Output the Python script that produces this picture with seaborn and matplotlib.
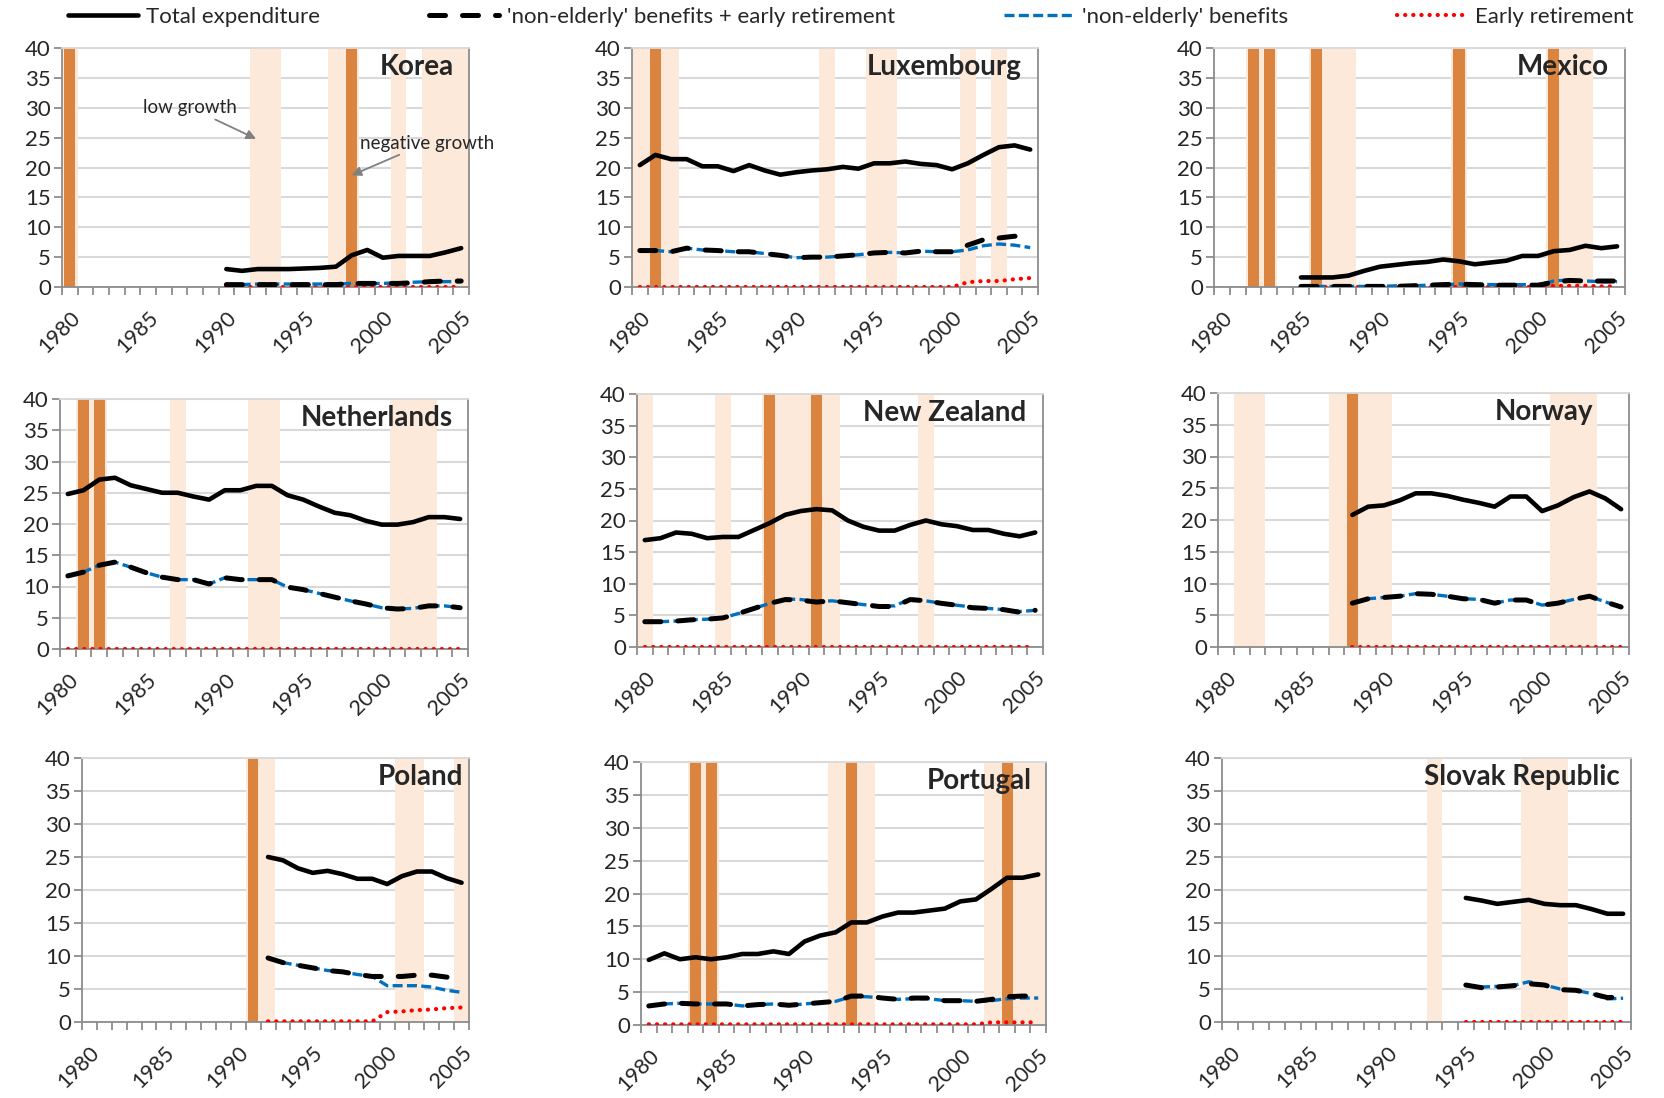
import numpy as np
import pandas as pd
import matplotlib.pyplot as plt
from matplotlib.lines import Line2D
import seaborn as sns

# ---- data ----
countries = ["Korea", "Luxembourg", "Mexico", "Netherlands", "New Zealand",
             "Norway", "Poland", "Portugal", "Slovak Republic"]
first_year = {"Korea": 1990, "Luxembourg": 1980, "Mexico": 1985, "Netherlands": 1980,
              "New Zealand": 1980, "Norway": 1988, "Poland": 1992, "Portugal": 1980,
              "Slovak Republic": 1995}

total = {
    "Korea": [3.0, 2.7, 3.0, 3.0, 3.0, 3.1, 3.2, 3.4, 5.3, 6.2, 4.9, 5.2, 5.2, 5.2, 5.8, 6.5],
    "Luxembourg": [20.4, 22.1, 21.4, 21.4, 20.2, 20.2, 19.4, 20.4, 19.5, 18.8, 19.2, 19.5, 19.7,
                   20.1, 19.8, 20.7, 20.7, 21.0, 20.6, 20.4, 19.7, 20.7, 22.1, 23.4, 23.7, 23.0],
    "Mexico": [1.6, 1.6, 1.6, 1.9, 2.7, 3.4, 3.7, 4.0, 4.2, 4.6, 4.3, 3.8, 4.1, 4.4, 5.2, 5.2,
               6.0, 6.2, 6.9, 6.5, 6.8],
    "Netherlands": [24.8, 25.4, 27.1, 27.4, 26.2, 25.6, 25.0, 25.0, 24.4, 23.9, 25.4, 25.4, 26.1,
                    26.1, 24.6, 23.9, 22.8, 21.8, 21.4, 20.5, 19.9, 19.9, 20.3, 21.1, 21.1, 20.8],
    "New Zealand": [16.9, 17.2, 18.1, 17.9, 17.2, 17.4, 17.4, 18.5, 19.6, 20.9, 21.5, 21.8, 21.6,
                    20.0, 19.0, 18.4, 18.4, 19.3, 20.0, 19.4, 19.1, 18.5, 18.5, 17.9, 17.5, 18.1],
    "Norway": [20.8, 22.1, 22.3, 23.1, 24.2, 24.2, 23.8, 23.2, 22.7, 22.1, 23.7, 23.7, 21.4, 22.3,
               23.6, 24.5, 23.4, 21.7],
    "Poland": [25.0, 24.5, 23.3, 22.6, 22.9, 22.4, 21.7, 21.7, 20.9, 22.1, 22.8, 22.8, 21.8, 21.1],
    "Portugal": [9.9, 10.9, 10.0, 10.3, 10.0, 10.3, 10.8, 10.8, 11.2, 10.8, 12.7, 13.6, 14.1,
                 15.6, 15.6, 16.5, 17.1, 17.1, 17.4, 17.7, 18.8, 19.1, 20.7, 22.4, 22.4, 22.9],
    "Slovak Republic": [18.8, 18.4, 17.9, 18.2, 18.5, 17.9, 17.7, 17.7, 17.1, 16.4, 16.4],
}

non_elderly_er = {
    "Korea": [0.4, 0.4, 0.4, 0.4, 0.4, 0.4, 0.4, 0.4, 0.6, 0.6, 0.6, 0.6, 0.7, 0.9, 1.0, 1.0],
    "Luxembourg": [6.1, 6.1, 5.9, 6.5, 6.2, 6.1, 5.9, 5.9, 5.6, 5.3, 4.9, 5.0, 5.0, 5.2, 5.4, 5.7,
                   5.8, 5.7, 6.0, 5.9, 5.9, 7.0, 7.9, 8.2, 8.5, 8.1],
    "Mexico": [0.1, 0.1, 0.1, 0.1, 0.1, 0.1, 0.1, 0.2, 0.3, 0.4, 0.5, 0.4, 0.3, 0.3, 0.3, 0.3,
               0.8, 1.1, 1.0, 1.0, 1.0],
    "Netherlands": [11.7, 12.3, 13.4, 13.9, 13.1, 12.2, 11.5, 11.1, 11.1, 10.4, 11.4, 11.1, 11.1,
                    11.1, 9.9, 9.5, 8.9, 8.3, 7.7, 7.2, 6.6, 6.4, 6.5, 6.9, 6.9, 6.6],
    "New Zealand": [4.0, 4.0, 4.1, 4.3, 4.4, 4.6, 5.3, 6.1, 6.9, 7.5, 7.4, 7.1, 7.3, 7.0, 6.7,
                    6.4, 6.4, 7.5, 7.3, 6.9, 6.6, 6.2, 6.1, 5.9, 5.5, 5.8],
    "Norway": [6.9, 7.6, 7.8, 8.0, 8.4, 8.3, 8.0, 7.6, 7.5, 6.9, 7.4, 7.4, 6.6, 6.9, 7.5, 8.0,
               7.1, 6.3],
    "Poland": [9.7, 9.0, 8.6, 8.2, 7.8, 7.6, 7.2, 6.9, 6.9, 6.9, 7.1, 7.1, 6.8, 6.6],
    "Portugal": [2.9, 3.2, 3.3, 3.2, 3.2, 3.2, 2.9, 3.1, 3.2, 3.0, 3.2, 3.4, 3.6, 4.4, 4.4, 4.1,
                 3.9, 4.1, 4.1, 3.7, 3.7, 3.6, 3.9, 4.3, 4.4, 4.4],
    "Slovak Republic": [5.6, 5.2, 5.3, 5.5, 5.8, 5.6, 4.9, 4.8, 4.3, 3.7, 3.8],
}

non_elderly = {
    "Korea": [0.4, 0.4, 0.5, 0.5, 0.5, 0.5, 0.5, 0.5, 0.6, 0.6, 0.6, 0.7, 0.8, 0.9, 0.9, 0.9],
    "Luxembourg": [6.1, 6.1, 5.9, 6.5, 6.2, 6.1, 5.9, 5.9, 5.6, 5.3, 4.9, 5.0, 5.0, 5.2, 5.4, 5.7,
                   5.8, 5.7, 6.0, 5.9, 5.9, 6.2, 6.9, 7.2, 7.0, 6.6],
    "Mexico": [0.1, 0.1, 0.1, 0.1, 0.1, 0.1, 0.2, 0.2, 0.3, 0.4, 0.5, 0.5, 0.4, 0.4, 0.4, 0.4,
               1.0, 1.2, 1.0, 0.9, 0.9],
    "Netherlands": [11.7, 12.3, 13.4, 13.9, 13.1, 12.2, 11.5, 11.1, 11.1, 10.4, 11.4, 11.1, 11.1,
                    11.1, 9.9, 9.5, 8.9, 8.3, 7.7, 7.2, 6.6, 6.4, 6.5, 6.9, 6.9, 6.6],
    "New Zealand": [4.0, 4.0, 4.1, 4.3, 4.4, 4.6, 5.3, 6.1, 6.9, 7.6, 7.5, 7.2, 7.3, 7.0, 6.7,
                    6.5, 6.5, 7.6, 7.3, 6.9, 6.6, 6.3, 6.1, 5.9, 5.6, 5.8],
    "Norway": [6.9, 7.6, 7.8, 8.0, 8.4, 8.3, 8.0, 7.6, 7.5, 6.9, 7.4, 7.4, 6.6, 6.9, 7.5, 8.0,
               7.1, 6.3],
    "Poland": [9.7, 9.0, 8.6, 8.2, 7.8, 7.6, 7.2, 6.9, 5.5, 5.5, 5.5, 5.3, 4.8, 4.5],
    "Portugal": [2.9, 3.2, 3.3, 3.2, 3.2, 3.2, 2.9, 3.1, 3.2, 3.0, 3.2, 3.4, 3.6, 4.3, 4.3, 4.1,
                 3.9, 4.0, 4.0, 3.7, 3.7, 3.6, 3.7, 4.0, 4.1, 4.1],
    "Slovak Republic": [5.6, 5.3, 5.4, 5.5, 6.1, 5.6, 5.0, 4.8, 4.3, 3.5, 3.6],
}

early_ret = {
    "Korea": [0.0, 0.0, 0.0, 0.0, 0.0, 0.0, 0.0, 0.0, 0.0, 0.0, 0.0, 0.0, 0.0, 0.0, 0.0, 0.0],
    "Luxembourg": [0.0, 0.0, 0.0, 0.0, 0.0, 0.0, 0.0, 0.0, 0.0, 0.0, 0.0, 0.0, 0.0, 0.0, 0.0,
                   0.0, 0.0, 0.0, 0.0, 0.0, 0.0, 0.8, 1.0, 1.0, 1.3, 1.5],
    "Mexico": [0.0, 0.0, 0.0, 0.0, 0.0, 0.0, 0.0, 0.0, 0.0, 0.0, 0.0, 0.0, 0.0, 0.0, 0.0, 0.0,
               0.2, 0.2, 0.2, 0.1, 0.1],
    "Netherlands": [0.0, 0.0, 0.0, 0.0, 0.0, 0.0, 0.0, 0.0, 0.0, 0.0, 0.0, 0.0, 0.0, 0.0, 0.0,
                    0.0, 0.0, 0.0, 0.0, 0.0, 0.0, 0.0, 0.0, 0.0, 0.0, 0.0],
    "New Zealand": [0.0, 0.0, 0.0, 0.0, 0.0, 0.0, 0.0, 0.0, 0.0, 0.0, 0.0, 0.0, 0.0, 0.0, 0.0,
                    0.0, 0.0, 0.0, 0.0, 0.0, 0.0, 0.0, 0.0, 0.0, 0.0, 0.0],
    "Norway": [0.0, 0.0, 0.0, 0.0, 0.0, 0.0, 0.0, 0.0, 0.0, 0.0, 0.0, 0.0, 0.0, 0.0, 0.0, 0.0,
               0.0, 0.0],
    "Poland": [0.1, 0.1, 0.1, 0.1, 0.1, 0.1, 0.1, 0.1, 1.5, 1.6, 1.8, 1.9, 2.1, 2.2],
    "Portugal": [0.1, 0.1, 0.1, 0.1, 0.1, 0.1, 0.1, 0.1, 0.1, 0.1, 0.1, 0.1, 0.1, 0.1, 0.1, 0.1,
                 0.1, 0.1, 0.1, 0.1, 0.1, 0.1, 0.4, 0.4, 0.4, 0.4],
    "Slovak Republic": [0.0, 0.0, 0.0, 0.0, 0.0, 0.0, 0.0, 0.0, 0.0, 0.0, 0.0],
}

# years of low growth (light band) and negative growth (dark bar)
low_growth = {
    "Korea": [1980, 1992, 1993, 1997, 1998, 2001, 2003, 2004, 2005],
    "Luxembourg": [1980, 1981, 1982, 1992, 1995, 1996, 2001, 2003],
    "Mexico": [1982, 1983, 1986, 1987, 1988, 1995, 2001, 2002, 2003],
    "Netherlands": [1981, 1982, 1987, 1992, 1993, 2001, 2002, 2003],
    "New Zealand": [1980, 1985, 1988, 1989, 1990, 1991, 1992, 1998],
    "Norway": [1981, 1982, 1987, 1988, 1989, 1990, 2001, 2002, 2003],
    "Poland": [1991, 1992, 2001, 2002, 2005],
    "Portugal": [1983, 1984, 1992, 1993, 1994, 2002, 2003, 2004, 2005],
    "Slovak Republic": [1993, 1999, 2000, 2001],
}
neg_growth = {
    "Korea": [1980, 1998],
    "Luxembourg": [1981],
    "Mexico": [1982, 1983, 1986, 1995, 2001],
    "Netherlands": [1981, 1982],
    "New Zealand": [1988, 1991],
    "Norway": [1988],
    "Poland": [1991],
    "Portugal": [1983, 1984, 1993, 2003],
    "Slovak Republic": [],
}

series_names = ["Total expenditure", "'non-elderly' benefits + early retirement",
                "'non-elderly' benefits", "Early retirement"]
series_data = [total, non_elderly_er, non_elderly, early_ret]

rows = []
for name, sdict in zip(series_names, series_data):
    for c in countries:
        for i, v in enumerate(sdict[c]):
            rows.append((c, first_year[c] + i, name, v))
df = pd.DataFrame(rows, columns=["country", "year", "series", "value"])

# ---- styling ----
W, H = 1664, 1098
# axes boxes in pixels: left, top, right, bottom
boxes = {
    "Korea": (62, 48, 469, 287), "Luxembourg": (632, 48, 1038, 287),
    "Mexico": (1214, 48, 1625, 287), "Netherlands": (60, 399, 468, 649),
    "New Zealand": (637, 394, 1043, 647), "Norway": (1218, 393, 1629, 647),
    "Poland": (82, 758, 469, 1022), "Portugal": (641, 762, 1046, 1025),
    "Slovak Republic": (1222, 758, 1631, 1022),
}
title_pad = {"Korea": 15, "Luxembourg": 16, "Mexico": 16, "Netherlands": 15,
             "New Zealand": 17, "Norway": 36, "Poland": 6, "Portugal": 14,
             "Slovak Republic": 11}

styles = {
    "Total expenditure": dict(color="black", lw=3.3, ls="-", zorder=6,
                              solid_capstyle="round"),
    "'non-elderly' benefits + early retirement": dict(color="black", lw=3.6,
                                                      ls=(0, (3.2, 3.4)), zorder=5,
                                                      dash_capstyle="round"),
    "'non-elderly' benefits": dict(color="#0070C0", lw=2.4, ls=(0, (3.0, 1.3)), zorder=4),
    "Early retirement": dict(color="#FF0000", lw=3.0, ls=(0, (0.05, 1.9)), zorder=3,
                             dash_capstyle="round"),
}

LIGHT = "#FDE9D9"
DARK = "#DA843F"
GRID = "#D9D9D9"
SPINE = "#8C8C8C"

sns.set_style("white")
plt.rcParams["font.family"] = ["Lato", "DejaVu Sans"]

fig = plt.figure(figsize=(W / 100, H / 100), dpi=100)

for c in countries:
    l, t, r, b = boxes[c]
    ax = fig.add_axes([l / W, 1 - b / H, (r - l) / W, (b - t) / H])

    ax.bar(low_growth[c], 40, width=1.0, color=LIGHT, zorder=1, linewidth=0)
    if neg_growth[c]:
        ax.bar(neg_growth[c], 40, width=0.7, color=DARK, zorder=1.5, linewidth=0)

    sub = df[df.country == c]
    for name in series_names[::-1]:
        st = styles[name]
        sns.lineplot(data=sub[sub.series == name], x="year", y="value", ax=ax,
                     color=st["color"], linewidth=st["lw"], linestyle=st["ls"],
                     zorder=st["zorder"],
                     **{k: v for k, v in st.items()
                        if k in ("dash_capstyle", "solid_capstyle")})

    ax.set_xlim(1979.5, 2005.5)
    ax.set_ylim(0, 40)
    ax.set_yticks(range(0, 41, 5))
    ax.yaxis.grid(True, color=GRID, lw=1.5, zorder=0)
    ax.set_axisbelow(True)

    ax.set_xticks(range(1980, 2006, 5))
    ax.set_xticks(np.arange(1979.5, 2006, 1), minor=True)
    ax.set_xticklabels([str(y) for y in range(1980, 2006, 5)], rotation=45,
                       ha="right", va="top", rotation_mode="anchor", fontsize=15.5)
    ax.tick_params(axis="x", which="major", length=0, pad=15)
    ax.tick_params(axis="x", which="minor", length=6, width=1.3, color=SPINE,
                   direction="out", bottom=True)
    ax.tick_params(axis="y", length=6, width=1.3, color=SPINE, direction="out",
                   left=True, labelsize=16, pad=2)
    ax.set_xlabel("")
    ax.set_ylabel("")

    for side in ["left", "bottom", "right"]:
        ax.spines[side].set_color(SPINE)
        ax.spines[side].set_linewidth(1.3)
    ax.spines["top"].set_color(GRID)
    ax.spines["top"].set_linewidth(1.3)

    ax.annotate(c, xy=(1, 1), xycoords="axes fraction",
                xytext=(-title_pad[c], -6), textcoords="offset pixels",
                ha="right", va="top", fontsize=20, fontweight="bold", zorder=10)

    if c == "Korea":
        arrow = dict(arrowstyle="-|>", color="#808080", lw=1.3, mutation_scale=14,
                     shrinkA=0, shrinkB=0)
        ax.annotate("low growth", xy=(1991.9, 24.8), xytext=(1987.7, 30.0),
                    ha="center", va="center", fontsize=13.5, arrowprops=arrow,
                    zorder=10)
        ax.annotate("negative growth", xy=(1998.0, 18.7), xytext=(2002.8, 24.1),
                    ha="center", va="center", fontsize=13.5, arrowprops=arrow,
                    zorder=10, annotation_clip=False)

handles = []
for name in series_names:
    st = styles[name]
    handles.append(Line2D([0], [0], color=st["color"], lw=st["lw"], linestyle=st["ls"],
                          **{k: v for k, v in st.items()
                             if k in ("dash_capstyle", "solid_capstyle")}))
fig.legend(handles, series_names, loc="center", bbox_to_anchor=(851 / W, 1 - 17 / H),
           ncol=4, frameon=False, fontsize=16, handlelength=3.15, handletextpad=0.36,
           columnspacing=4.9, borderaxespad=0)

fig.savefig("out.png", dpi=100)
